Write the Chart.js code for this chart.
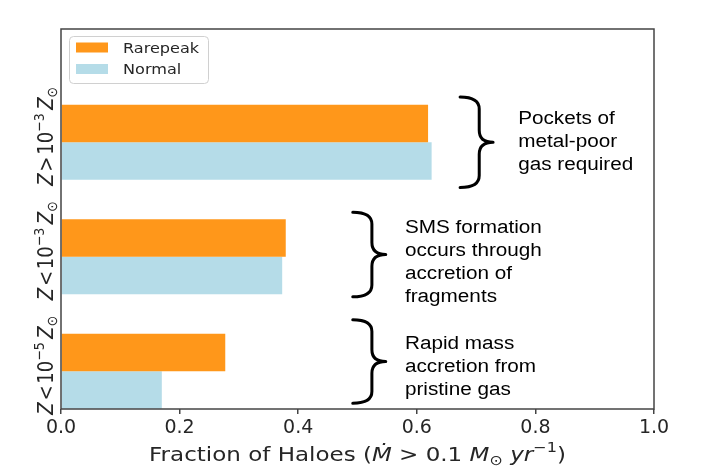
<!DOCTYPE html>
<html>
<head>
<meta charset="utf-8">
<script src="https://cdn.jsdelivr.net/npm/chart.js@4"></script>
<style>
  body { margin: 0; background: #fff; }
  #wrap { width: 704px; height: 476px; }
</style>
</head>
<body>
<div id="wrap"><canvas id="chart" width="704" height="476"></canvas></div>
<script>
// categories, top to bottom ($..$ = italic, ^{..} = superscript, _{..} = subscript)
const categories = [
  "$Z$\u200a>\u200a10^{−3}\u2009$Z$_{⊙}",
  "$Z$\u200a<\u200a10^{−3}\u2009$Z$_{⊙}",
  "$Z$\u200a<\u200a10^{−5}\u2009$Z$_{⊙}",
];
const rarepeak = [0.619, 0.379, 0.277];
const normal = [0.625, 0.373, 0.17];
const xTicks = [0, 0.2, 0.4, 0.6, 0.8, 1.0];
const xTitle = "Fraction of Haloes ($Ṁ$ > 0.1 $M$_{⊙} $yr$^{−1})";

const notes = [
  ["Pockets of", "metal-poor", "gas required"],
  ["SMS formation", "occurs through", "accretion of", "fragments"],
  ["Rapid mass", "accretion from", "pristine gas"],
];
// where each brace / note sits, in axis units
const noteLayout = [
  { braceX: 0.673, textX: 0.771, braceY: 2.0, braceH: 0.79, textY: 2.02 },
  { braceX: 0.492, textX: 0.58, braceY: 1.02, braceH: 0.74, textY: 0.96 },
  { braceX: 0.492, textX: 0.58, braceY: 0.085, braceH: 0.73, textY: 0.046 },
];

const SX = 1.15; // the picture is a bit wider than tall
const orange = "#ff971a";
const blue = "#b5dce8";
const ink = "#262626";

const pos = (i) => categories.length - 1 - i;

function parseRich(str) {
  const segs = [];
  const re = /\^\{([^}]*)\}|_\{([^}]*)\}|\$([^$]*)\$|([^$^_]+)/g;
  let m;
  while ((m = re.exec(str))) {
    if (m[1] !== undefined) segs.push({ t: m[1], sup: true });
    else if (m[2] !== undefined) segs.push({ t: m[2], sub: true });
    else if (m[3] !== undefined) segs.push({ t: m[3], it: true });
    else segs.push({ t: m[4] });
  }
  return segs;
}

function segFont(s, fs) {
  const size = s.sup || s.sub ? fs * 0.7 : fs;
  return (s.it ? "italic " : "") + size + 'px "DejaVu Sans"';
}

function richWidth(ctx, segs, fs) {
  let w = 0;
  segs.forEach((s) => {
    ctx.font = segFont(s, fs);
    w += ctx.measureText(s.t).width;
  });
  return w;
}

// draws centred on the current origin, baseline at y = 0
function drawRich(ctx, segs, fs) {
  let x = -richWidth(ctx, segs, fs) / 2;
  ctx.textBaseline = "alphabetic";
  ctx.textAlign = "left";
  segs.forEach((s) => {
    ctx.font = segFont(s, fs);
    const dy = s.sup ? -fs * 0.45 : s.sub ? fs * 0.2 : 0;
    ctx.fillText(s.t, x, dy);
    x += ctx.measureText(s.t).width;
  });
}

function drawBrace(ctx, x0, yt, yb, w) {
  const xs = x0 + w * 0.58;
  const xt = x0 + w;
  const ym = (yt + yb) / 2;
  const r = Math.min(12, (yb - yt) * 0.14);
  ctx.beginPath();
  ctx.moveTo(x0, yt);
  ctx.quadraticCurveTo(xs, yt, xs, yt + r);
  ctx.lineTo(xs, ym - r);
  ctx.quadraticCurveTo(xs, ym, xt, ym);
  ctx.quadraticCurveTo(xs, ym, xs, ym + r);
  ctx.lineTo(xs, yb - r);
  ctx.quadraticCurveTo(xs, yb, x0, yb);
  ctx.stroke();
}

const decor = {
  id: "decor",
  afterDraw(chart) {
    const { ctx, chartArea: a, scales } = chart;
    const xs = scales.x;
    const ys = scales.y;

    // frame
    ctx.save();
    ctx.strokeStyle = "#444";
    ctx.lineWidth = 1.5;
    ctx.strokeRect(a.left, a.top, a.right - a.left, a.bottom - a.top);
    ctx.restore();

    // y labels, rotated
    ctx.save();
    ctx.fillStyle = ink;
    categories.forEach((c, i) => {
      ctx.save();
      ctx.translate(53, ys.getPixelForValue(pos(i)) - 6);
      ctx.scale(SX, 1);
      ctx.rotate(-Math.PI / 2);
      drawRich(ctx, parseRich(c), 18);
      ctx.restore();
    });
    // x title
    ctx.save();
    ctx.translate((a.left + a.right) / 2, 461);
    ctx.scale(SX, 1);
    drawRich(ctx, parseRich(xTitle), 20);
    ctx.restore();
    ctx.restore();

    // legend
    ctx.save();
    const lx = a.left + 8;
    const ly = a.top + 7;
    ctx.beginPath();
    ctx.roundRect(lx + 0.5, ly + 0.5, 139, 47, 4);
    ctx.fillStyle = "rgba(255,255,255,0.8)";
    ctx.fill();
    ctx.strokeStyle = "#d0d0d0";
    ctx.lineWidth = 1;
    ctx.stroke();
    chart.data.datasets.forEach((ds, i) => {
      const cy = ly + 11.5 + i * 21.5;
      ctx.fillStyle = ds.backgroundColor;
      ctx.fillRect(lx + 7, cy - 5, 32, 10);
      ctx.save();
      ctx.translate(lx + 54, cy);
      ctx.scale(SX, 1);
      ctx.fillStyle = ink;
      ctx.font = '14px "DejaVu Sans"';
      ctx.textBaseline = "middle";
      ctx.fillText(ds.label, 0, 1.5);
      ctx.restore();
    });
    ctx.restore();

    // braces and notes
    ctx.save();
    ctx.strokeStyle = "#000";
    ctx.lineWidth = 3;
    ctx.lineCap = "round";
    ctx.lineJoin = "round";
    notes.forEach((lines, i) => {
      const L = noteLayout[i];
      const yt = ys.getPixelForValue(L.braceY + L.braceH / 2);
      const yb = ys.getPixelForValue(L.braceY - L.braceH / 2);
      drawBrace(ctx, xs.getPixelForValue(L.braceX), yt, yb, 33);
      const tx = xs.getPixelForValue(L.textX);
      const ty = ys.getPixelForValue(L.textY);
      lines.forEach((t, k) => {
        ctx.save();
        ctx.translate(tx, ty + (k - (lines.length - 1) / 2) * 23 + 6.5);
        ctx.scale(SX, 1);
        ctx.fillStyle = "#000";
        ctx.font = '18px "Liberation Sans"';
        ctx.textBaseline = "alphabetic";
        ctx.fillText(t, 0, 0);
        ctx.restore();
      });
    });
    ctx.restore();
  },
};

new Chart(document.getElementById("chart"), {
  type: "bar",
  data: {
    datasets: [
      {
        label: "Rarepeak",
        data: rarepeak.map((v, i) => ({ x: v, y: pos(i) })),
        backgroundColor: orange,
      },
      {
        label: "Normal",
        data: normal.map((v, i) => ({ x: v, y: pos(i) })),
        backgroundColor: blue,
      },
    ],
  },
  options: {
    indexAxis: "y",
    responsive: false,
    animation: false,
    categoryPercentage: 0.655,
    barPercentage: 1,
    borderWidth: 0,
    layout: { padding: { left: 0, top: 29, right: 50, bottom: 0 } },
    plugins: {
      legend: { display: false },
      tooltip: { enabled: false },
    },
    scales: {
      y: {
        type: "linear",
        offset: false,
        min: -0.33,
        max: 2.99,
        afterBuildTicks: (scale) => {
          scale.ticks = categories.map((c, i) => ({ value: pos(i) }));
        },
        afterFit: (scale) => {
          scale.width = 61;
        },
        ticks: { display: false },
        grid: { display: false },
        border: { display: false },
      },
      x: {
        type: "linear",
        min: 0,
        max: 1,
        afterBuildTicks: (scale) => {
          scale.ticks = xTicks.map((v) => ({ value: v }));
        },
        afterFit: (scale) => {
          scale.height = 67;
        },
        ticks: {
          color: ink,
          padding: 3,
          font: { family: "DejaVu Sans", size: 19 },
          callback: (v) => v.toFixed(1),
        },
        grid: {
          drawOnChartArea: false,
          drawTicks: true,
          tickLength: 5,
          color: "#444",
          lineWidth: 1.5,
        },
        border: { display: false },
      },
    },
  },
  plugins: [decor],
});
</script>
</body>
</html>
